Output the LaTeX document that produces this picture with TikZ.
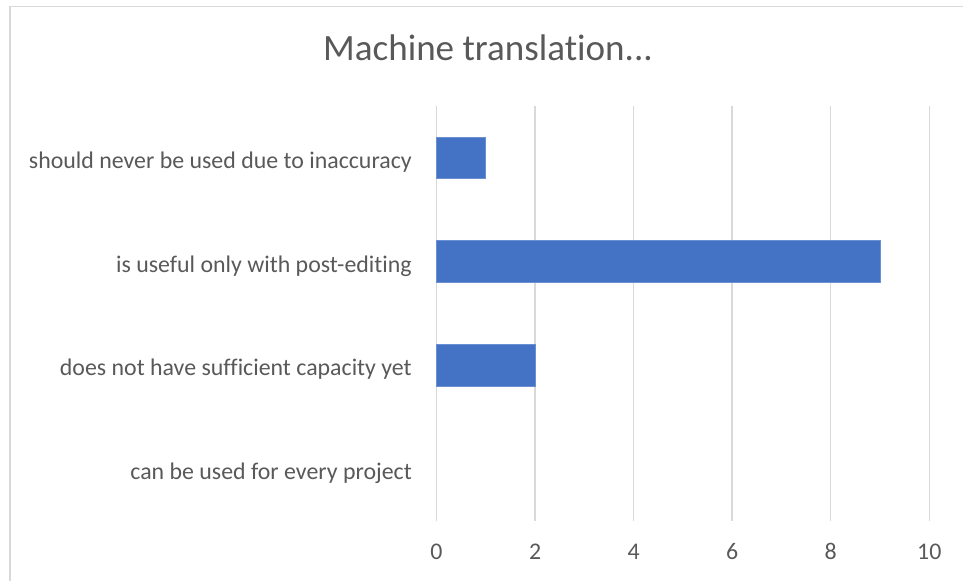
\documentclass[tikz,border=0pt]{standalone}
\usepackage{fontspec}
\setmainfont{Carlito}[Ligatures={NoCommon}]
\definecolor{chartframe}{HTML}{D9D9D9}
\definecolor{gridgray}{HTML}{D9D9D9}
\definecolor{labelgray}{HTML}{595959}
\definecolor{barblue}{HTML}{4472C4}
\definecolor{baredge}{HTML}{6A8FD3}
\begin{document}
\begin{tikzpicture}[x=0.75pt,y=-0.75pt,
  gridline/.style={draw=gridgray,line width=1.1pt},
  databar/.style={fill=barblue,draw=baredge,line width=0.5pt},
  catlabel/.style={anchor=base east,inner sep=0pt,text=labelgray,font=\fontsize{17.9pt}{21pt}\selectfont},
  ticklabel/.style={anchor=base,inner sep=0pt,text=labelgray,font=\fontsize{17.9pt}{21pt}\selectfont},
  charttitle/.style={anchor=base,inner sep=0pt,text=labelgray,font=\fontsize{27.8pt}{32pt}\selectfont}]
\useasboundingbox (0,0) rectangle (963,581);
\clip (0,0) rectangle (963,581);
% chart frame (continues past the right and bottom edges)
\draw[chartframe,line width=1.2pt] (10,6.5) rectangle (990,600);
% title
\node[charttitle] (title) at (488,61) {Machine translation...};
% vertical gridlines and value axis labels
\foreach \v [count=\i] in {0,2,4,6,8,10} {
  \coordinate (gtop\i) at ({436.5+49.28*\v},106);
  \coordinate (gbot\i) at ({436.5+49.28*\v},521);
  \draw[gridline] (gtop\i) -- (gbot\i);
  \node[ticklabel] (tick\i) at ({436.5+49.28*\v},559.3) {\v};
}
% bars: value 1, 9, 2, 0
\def\barh{20.8}
\path[databar] (436.5,{157.9-\barh}) rectangle ({436.5+49.28*1},{157.9+\barh});
\path[databar] (436.5,{261.6-\barh}) rectangle ({436.5+49.28*9},{261.6+\barh});
\path[databar] (436.5,{365.4-\barh}) rectangle ({436.5+49.28*2},{365.4+\barh});
% category labels
\node[catlabel] (cat1) at (412,168.3) {should never be used due to inaccuracy};
\node[catlabel] (cat2) at (412,272.0) {is useful only with post-editing};
\node[catlabel] (cat3) at (412,375.8) {does not have sufficient capacity yet};
\node[catlabel] (cat4) at (412,479.5) {can be used for every project};
\end{tikzpicture}
\end{document}
